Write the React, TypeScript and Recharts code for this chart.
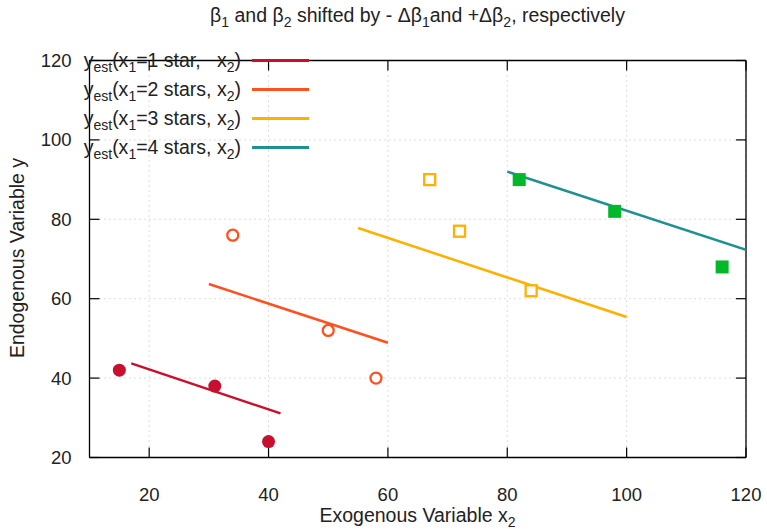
import {
  ComposedChart,
  CartesianGrid,
  Line,
  ReferenceLine,
  Scatter,
  XAxis,
  YAxis
} from 'recharts'

const xDomain = [10, 120]
const yDomain = [20, 120]
const xTicks = [20, 40, 60, 80, 100, 120]
const yTicks = [20, 40, 60, 80, 100, 120]

const stars = [1, 2, 3, 4]

// observed points
const s1X = [15, 31, 40]
const s1Y = [42, 38, 24]
const s2X = [34, 50, 58]
const s2Y = [76, 52, 40]
const s3X = [67, 72, 84]
const s3Y = [90, 77, 62]
const s4X = [82, 98, 116]
const s4Y = [90, 82, 68]

// fitted lines (end points)
const f1X = [17, 42]
const f1Y = [43.7, 31.1]
const f2X = [30, 60]
const f2Y = [63.7, 48.9]
const f3X = [55, 100]
const f3Y = [77.8, 55.4]
const f4X = [80, 120]
const f4Y = [92, 72.3]

const lineColors = ['#c8102e', '#ff5020', '#ffb000', '#209090']
const pointColors = ['#c8102e', '#ff5020', '#ffb000', '#00b82a']

const zip = (xs: number[], ys: number[]) => xs.map((x, i) => ({ x, y: ys[i] }))

const pts = [zip(s1X, s1Y), zip(s2X, s2Y), zip(s3X, s3Y), zip(s4X, s4Y)]
const fits = [zip(f1X, f1Y), zip(f2X, f2Y), zip(f3X, f3Y), zip(f4X, f4Y)]

const W = 767
const H = 529
const M = { top: 60.5, right: 21, left: 49.5, bottom: 31.5 }
const Y_AXIS_W = 40
const X_AXIS_H = 40
// inward tick length of 10px, expressed in axis units
const TICK_PX = 10
const plotW = W - M.left - M.right - Y_AXIS_W
const plotH = H - M.top - M.bottom - X_AXIS_H
const tlx = (TICK_PX * (xDomain[1] - xDomain[0])) / plotW
const tly = (TICK_PX * (yDomain[1] - yDomain[0])) / plotH

const FONT = '"Liberation Sans", Arial, sans-serif'
const FS = 18.5

const BottomLabel = (p: any) => (
  <text x={p.x} y={p.y} dy={15} textAnchor="middle" fontSize={FS} fontFamily={FONT} fill="#222">
    {p.payload.value}
  </text>
)

const LeftLabel = (p: any) => (
  <text x={p.x} y={p.y} dy={6.5} textAnchor="end" fontSize={FS} fontFamily={FONT} fill="#222">
    {p.payload.value}
  </text>
)

const Circle = (color: string, filled: boolean) => (p: any) =>
  filled ? (
    <circle cx={p.cx} cy={p.cy} r={6.5} fill={color} />
  ) : (
    <circle cx={p.cx} cy={p.cy} r={5.5} fill="#fff" stroke={color} strokeWidth={2.3} />
  )

const Square = (color: string, filled: boolean) => (p: any) =>
  filled ? (
    <rect x={p.cx - 6.5} y={p.cy - 6.5} width={13} height={13} fill={color} />
  ) : (
    <rect x={p.cx - 5.5} y={p.cy - 5.5} width={11} height={11} fill="#fff" stroke={color} strokeWidth={2.3} />
  )

const shapes = [
  Circle(pointColors[0], true),
  Circle(pointColors[1], false),
  Square(pointColors[2], false),
  Square(pointColors[3], true)
]

const sub = { fontSize: 14 }
const border = { stroke: '#000', strokeWidth: 1.3 }

export default function App() {
  const [x0, x1] = xDomain
  const [y0, y1] = yDomain
  return (
    <div style={{ position: 'absolute', left: 0, top: 0, width: W, height: H, fontFamily: FONT, color: '#222', background: '#fff' }}>
      <ComposedChart width={W} height={H} margin={M}>
        <CartesianGrid stroke="#bbb" strokeDasharray="1 4" />
        <XAxis
          type="number"
          dataKey="x"
          domain={xDomain}
          ticks={xTicks}
          allowDataOverflow
          height={X_AXIS_H}
          axisLine={border}
          tickLine={false}
          tickMargin={22}
          tick={BottomLabel}
        />
        <YAxis
          type="number"
          dataKey="y"
          domain={yDomain}
          ticks={yTicks}
          allowDataOverflow
          width={Y_AXIS_W}
          axisLine={border}
          tickLine={false}
          tickMargin={12}
          tick={LeftLabel}
        />
        <ReferenceLine y={y1} stroke="#000" strokeWidth={1.3} ifOverflow="visible" />
        <ReferenceLine x={x1} stroke="#000" strokeWidth={1.3} ifOverflow="visible" />
        {xTicks.map((t) => (
          <ReferenceLine key={'bt' + t} segment={[{ x: t, y: y0 }, { x: t, y: y0 + tly }]} stroke="#000" strokeWidth={1.2} ifOverflow="visible" />
        ))}
        {xTicks.map((t) => (
          <ReferenceLine key={'tt' + t} segment={[{ x: t, y: y1 }, { x: t, y: y1 - tly }]} stroke="#000" strokeWidth={1.2} ifOverflow="visible" />
        ))}
        {yTicks.map((t) => (
          <ReferenceLine key={'lt' + t} segment={[{ x: x0, y: t }, { x: x0 + tlx, y: t }]} stroke="#000" strokeWidth={1.2} ifOverflow="visible" />
        ))}
        {yTicks.map((t) => (
          <ReferenceLine key={'rt' + t} segment={[{ x: x1, y: t }, { x: x1 - tlx, y: t }]} stroke="#000" strokeWidth={1.2} ifOverflow="visible" />
        ))}
        {fits.map((d, i) => (
          <Line
            key={'f' + i}
            data={d}
            dataKey="y"
            type="linear"
            stroke={lineColors[i]}
            strokeWidth={2.5}
            dot={false}
            activeDot={false}
            isAnimationActive={false}
          />
        ))}
        {pts.map((d, i) => (
          <Scatter
            key={'p' + i}
            data={d}
            dataKey="y"
            shape={shapes[i]}
            isAnimationActive={false}
          />
        ))}
      </ComposedChart>

      <div style={{ position: 'absolute', left: 89, width: 657, top: 4, textAlign: 'center', fontSize: 19.5 }}>
        β<sub style={sub}>1</sub> and β<sub style={sub}>2</sub> shifted by - Δβ<sub style={sub}>1</sub>and +Δβ<sub style={sub}>2</sub>, respectively
      </div>

      {stars.map((n, i) => (
        <div key={n} style={{ position: 'absolute', top: 48 + i * 29, left: 0, width: 310, height: 24 }}>
          <div style={{ position: 'absolute', right: 69, top: 0, fontSize: 19.5, whiteSpace: 'pre', lineHeight: '24px' }}>
            y<sub style={sub}>est</sub>(x<sub style={sub}>1</sub>={n} {n === 1 ? 'star,  ' : 'stars,'} x<sub style={sub}>2</sub>)
          </div>
          <div style={{ position: 'absolute', left: 252, width: 57, top: 11, height: 2.5, background: lineColors[i] }} />
        </div>
      ))}

      <div style={{ position: 'absolute', left: 89, width: 657, top: 504, textAlign: 'center', fontSize: 19.5 }}>
        Exogenous Variable x<sub style={sub}>2</sub>
      </div>
      <div
        style={{
          position: 'absolute',
          left: 17,
          top: 258,
          transform: 'translate(-50%, -50%) rotate(-90deg)',
          whiteSpace: 'nowrap',
          fontSize: 19.5
        }}>
        Endogenous Variable y
      </div>
    </div>
  )
}
